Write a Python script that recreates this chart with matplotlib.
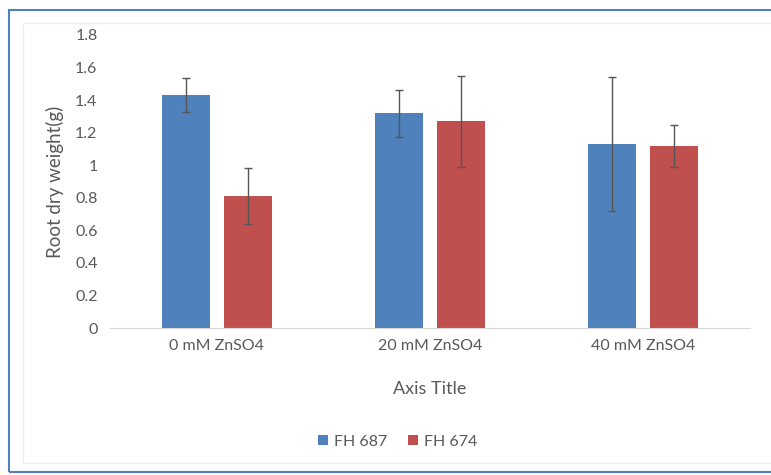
import matplotlib
matplotlib.use("Agg")
import matplotlib.pyplot as plt
import numpy as np
from matplotlib.patches import Rectangle

categories = ["0 mM ZnSO4", "20 mM ZnSO4", "40 mM ZnSO4"]
series_names = ["FH 687", "FH 674"]
fh687 = [1.43, 1.32, 1.13]
fh687_err = [0.105, 0.145, 0.41]
fh674 = [0.81, 1.27, 1.12]
fh674_err = [0.17, 0.28, 0.13]
yticks = [0, 0.2, 0.4, 0.6, 0.8, 1, 1.2, 1.4, 1.6, 1.8]
ytick_labels = ["0", "0.2", "0.4", "0.6", "0.8", "1", "1.2", "1.4", "1.6", "1.8"]

plt.rcParams['font.family'] = ['Lato', 'DejaVu Sans']
txt = "#595959"

fig = plt.figure(figsize=(7.71, 4.75), dpi=100)
ax = fig.add_axes([110/771, 1-328/475, 640/771, (328-35)/475])

x = np.arange(len(categories))
w = 0.225
off = 0.145
ekw = dict(ecolor="#555555", elinewidth=1, capsize=3, capthick=1)
ax.bar(x - off, fh687, w, color="#4F81BD", label=series_names[0], yerr=fh687_err, error_kw=ekw)
ax.bar(x + off, fh674, w, color="#C0504D", label=series_names[1], yerr=fh674_err, error_kw=ekw)

ax.set_xlim(-0.5, 2.5)
ax.set_ylim(0, 1.8)
ax.set_yticks(yticks)
ax.set_yticklabels(ytick_labels)
ax.set_xticks(x)
ax.set_xticklabels(categories)
for s in ["top", "right", "left"]:
    ax.spines[s].set_visible(False)
ax.spines["bottom"].set_color("#d9d9d9")
ax.tick_params(axis="both", length=0, colors=txt)
ax.tick_params(axis="y", pad=9, labelsize=11.5)
ax.tick_params(axis="x", pad=8, labelsize=11.5)
ax.set_xlabel("Axis Title", color=txt, fontsize=13, labelpad=20)
ax.set_ylabel("Root dry weight(g)", color=txt, fontsize=13.5, labelpad=8)

leg = fig.legend(loc="center", bbox_to_anchor=(398/771, 1-442/475), ncol=2, frameon=False,
                 fontsize=11.5, handlelength=0.6, handleheight=0.6, handletextpad=0.4, columnspacing=1.3)
for t in leg.get_texts():
    t.set_color(txt)

# outer chart border
fig.patches.append(Rectangle((9/771, 1-472/475), 1.0, 462/475, transform=fig.transFigure,
                             fill=False, edgecolor="#4F81BD", linewidth=1.5))
fig.patches.append(Rectangle((23/771, 1-463/475), 1.0, 440/475, transform=fig.transFigure,
                             fill=False, edgecolor="#eeeeee", linewidth=1))

fig.savefig("out.png", dpi=100)
